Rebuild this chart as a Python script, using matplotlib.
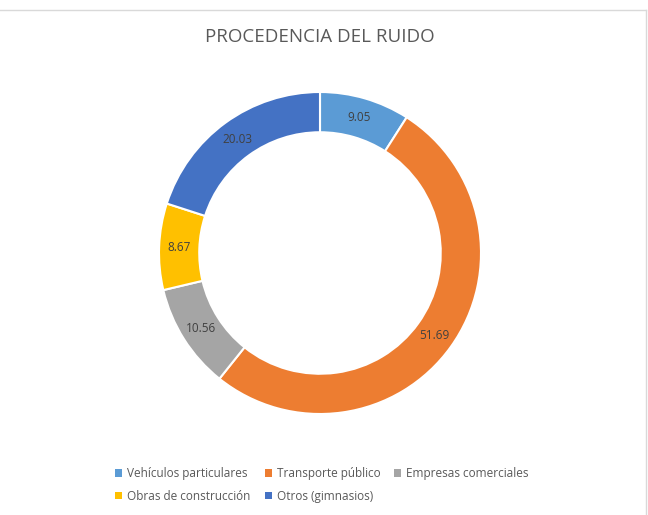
import matplotlib.pyplot as plt
from matplotlib.lines import Line2D

# datos del grafico
categorias = ['Vehículos particulares', 'Transporte público', 'Empresas comerciales',
              'Obras de construcción', 'Otros (gimnasios)']
valores = [9.05, 51.69, 10.56, 8.67, 20.03]
colores = ['#5B9BD5', '#ED7D31', '#A5A5A5', '#FFC000', '#4472C4']
titulo = 'PROCEDENCIA DEL RUIDO'

plt.rcParams['font.family'] = ['Open Sans', 'DejaVu Sans']

fig = plt.figure(figsize=(6.48, 5.15), dpi=100)

# borde del area del grafico (arriba y derecha)
fig.add_artist(Line2D([0, 646 / 648], [1 - 10 / 515, 1 - 10 / 515], color='#D9D9D9', lw=1))
fig.add_artist(Line2D([646 / 648, 646 / 648], [1 - 10 / 515, 0], color='#D9D9D9', lw=1))

cx, cy, r = 320, 253, 161
ax = fig.add_axes([(cx - r) / 648, (515 - cy - r) / 515, 2 * r / 648, 2 * r / 515])

wedges, textos = ax.pie(valores, colors=colores, startangle=90, counterclock=False,
                        radius=1.0, wedgeprops=dict(width=0.25, edgecolor='white', linewidth=1.5),
                        labels=['%.2f' % v for v in valores], labeldistance=0.875,
                        textprops=dict(fontsize=8.5, color='#404040'))
for t in textos:
    t.set_horizontalalignment('center')
    t.set_verticalalignment('center')
ax.set_xlim(-1, 1)
ax.set_ylim(-1, 1)
ax.set_aspect('equal')
ax.axis('off')

fig.text(cx / 648, 1 - 37 / 515, titulo, ha='center', va='center', fontsize=13.5, color='#595959')

# leyenda en orden por filas
orden = [0, 3, 1, 4, 2]
leg = fig.legend([wedges[i] for i in orden], [categorias[i] for i in orden],
                 loc='center', bbox_to_anchor=(322 / 648, 1 - 485 / 515), ncol=3,
                 frameon=False, fontsize=8.5, handlelength=0.6, handleheight=0.6,
                 handletextpad=0.4, columnspacing=1.2, labelspacing=0.8)
for t in leg.get_texts():
    t.set_color('#595959')
for h in leg.legend_handles:
    h.set_edgecolor('none')

fig.savefig('out.png', dpi=100)
